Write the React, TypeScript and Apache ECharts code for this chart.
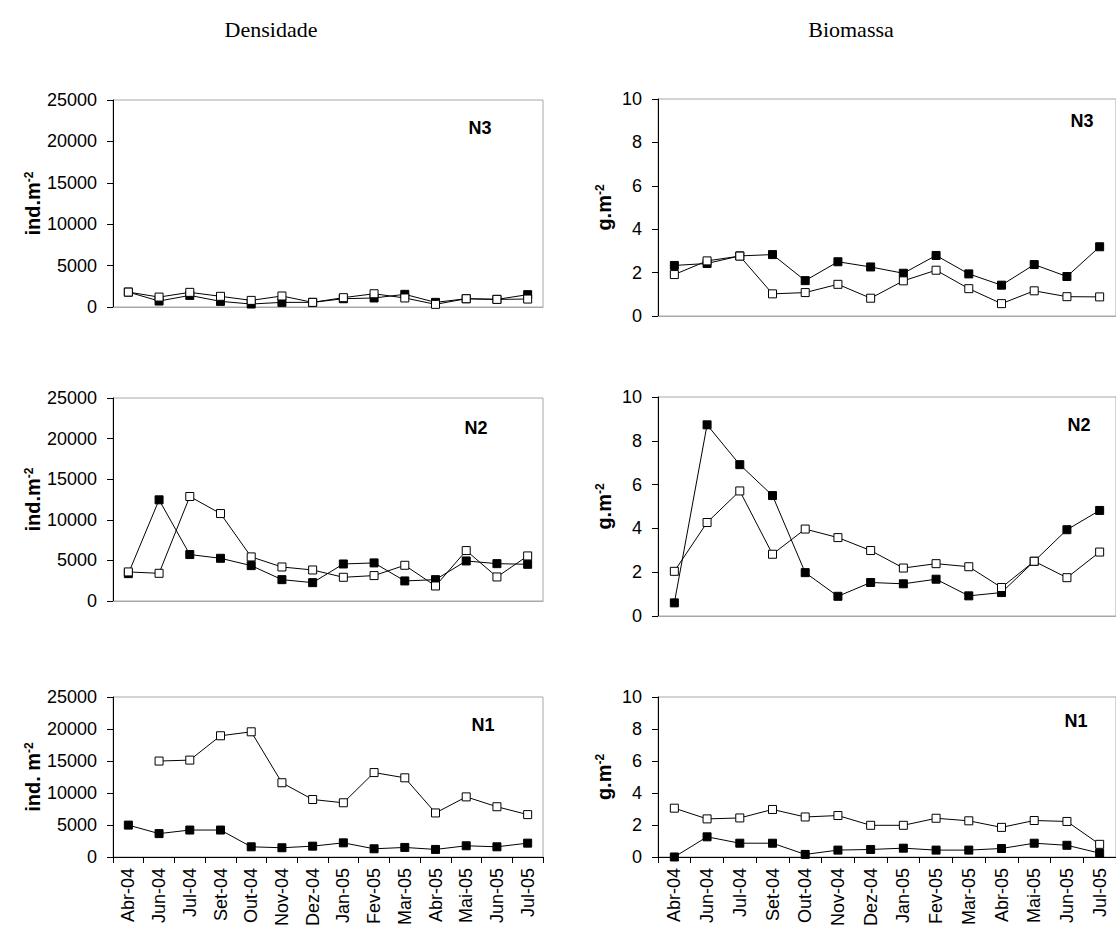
import React, { useEffect, useRef } from "react";
import * as echarts from "echarts";

const categories = ["Abr-04", "Jun-04", "Jul-04", "Set-04", "Out-04", "Nov-04", "Dez-04", "Jan-05", "Fev-05", "Mar-05", "Abr-05", "Mai-05", "Jun-05", "Jul-05"];

// Densidade (ind.m-2)
const densN3Filled = [1800, 720, 1400, 680, 360, 560, 560, 1000, 1090, 1530, 560, 1000, 920, 1490];
const densN3Open = [1800, 1200, 1770, 1290, 800, 1330, 560, 1130, 1600, 1090, 320, 1000, 920, 960];
const densN2Filled = [3370, 12460, 5720, 5260, 4360, 2630, 2260, 4560, 4690, 2470, 2630, 4930, 4600, 4520];
const densN2Open = [3580, 3410, 12870, 10770, 5430, 4190, 3820, 2920, 3130, 4400, 1850, 6210, 2960, 5550];
const densN1Filled = [4980, 3650, 4210, 4210, 1590, 1440, 1690, 2210, 1280, 1490, 1180, 1750, 1590, 2160];
const densN1Open = [null, 14990, 15140, 18940, 19560, 11600, 8980, 8470, 13190, 12370, 6880, 9390, 7850, 6620];

// Biomassa (g.m-2)
const bioN3Filled = [2.33, 2.42, 2.77, 2.83, 1.63, 2.5, 2.26, 1.97, 2.79, 1.94, 1.42, 2.37, 1.82, 3.19];
const bioN3Open = [1.91, 2.54, 2.76, 1.02, 1.08, 1.46, 0.82, 1.62, 2.11, 1.26, 0.57, 1.16, 0.89, 0.88];
const bioN2Filled = [0.6, 8.73, 6.91, 5.5, 1.98, 0.9, 1.53, 1.47, 1.68, 0.92, 1.07, 2.5, 3.94, 4.82];
const bioN2Open = [2.04, 4.27, 5.71, 2.82, 3.97, 3.58, 2.99, 2.19, 2.39, 2.25, 1.3, 2.5, 1.75, 2.92];
const bioN1Filled = [0.0, 1.26, 0.86, 0.86, 0.16, 0.43, 0.47, 0.55, 0.43, 0.43, 0.53, 0.86, 0.73, 0.24];
const bioN1Open = [3.05, 2.38, 2.44, 2.97, 2.5, 2.59, 1.98, 1.98, 2.42, 2.26, 1.85, 2.28, 2.22, 0.79];

const densTicks = { min: 0, max: 25000, interval: 5000 };
const bioTicks = { min: 0, max: 10, interval: 2 };

const panelNames = ["N3", "N3", "N2", "N2", "N1", "N1"];
const columnTitles = ["Densidade", "Biomassa"];

const SANS = "'Liberation Sans', Arial, sans-serif";
const SERIF = "'Liberation Serif', 'Times New Roman', serif";

const layout = [
  { left: 113, top: 100, width: 430, height: 207 },
  { left: 658, top: 99, width: 461, height: 217 },
  { left: 113, top: 398, width: 430, height: 203 },
  { left: 658, top: 397, width: 461, height: 219 },
  { left: 113, top: 697, width: 430, height: 163 },
  { left: 658, top: 697, width: 461, height: 164 },
];

const panelData = [
  [densN3Filled, densN3Open],
  [bioN3Filled, bioN3Open],
  [densN2Filled, densN2Open],
  [bioN2Filled, bioN2Open],
  [densN1Filled, densN1Open],
  [bioN1Filled, bioN1Open],
];

export default function App() {
  const ref = useRef<HTMLDivElement>(null);
  useEffect(() => {
    if (!ref.current) return;
    const chart = echarts.init(ref.current, null, { renderer: "svg" });

    const grids = layout.map((g) => ({
      ...g,
      show: true,
      borderColor: "#a8a8a8",
      borderWidth: 1,
      backgroundColor: "transparent",
      containLabel: false,
    }));

    const xAxes = layout.map((_, i) => {
      const bottom = i >= 4;
      return {
        type: "category",
        gridIndex: i,
        data: categories,
        boundaryGap: true,
        axisLine: { show: true, lineStyle: { color: bottom ? "#000" : "#a8a8a8", width: 1 } },
        axisTick: { show: bottom, alignWithLabel: false, length: 6, lineStyle: { color: "#000" }, interval: 0 },
        axisLabel: {
          show: bottom,
          rotate: 90,
          interval: 0,
          fontSize: 18,
          fontFamily: SANS,
          color: "#000",
          margin: 11,
        },
        splitLine: { show: false },
      };
    });

    const yAxes = layout.map((_, i) => {
      const isDens = i % 2 === 0;
      const t = isDens ? densTicks : bioTicks;
      const nameMain = isDens ? (i === 4 ? "ind. m" : "ind.m") : "g.m";
      return {
        type: "value",
        gridIndex: i,
        min: t.min,
        max: t.max,
        interval: t.interval,
        name: `{a|${nameMain}}{b|-2}`,
        nameLocation: "middle",
        nameGap: isDens ? 59 : 44,
        nameTextStyle: {
          rich: {
            a: { fontSize: 20, fontWeight: "bold", fontFamily: SANS, color: "#000" },
            b: { fontSize: 12, fontWeight: "bold", fontFamily: SANS, color: "#000", verticalAlign: "top", padding: [0, 0, 8, 0] },
          },
        },
        axisLine: { show: true, lineStyle: { color: "#000", width: 1 } },
        axisTick: { show: true, length: 6, lineStyle: { color: "#000" } },
        axisLabel: {
          fontSize: 18,
          fontFamily: SANS,
          color: "#000",
          margin: 16,
          formatter: (v: number) => String(v),
        },
        splitLine: { show: false },
      };
    });

    const series: any[] = [];
    panelData.forEach((pair, i) => {
      pair.forEach((values, k) => {
        series.push({
          type: "line",
          xAxisIndex: i,
          yAxisIndex: i,
          data: values,
          connectNulls: false,
          symbol: "rect",
          symbolSize: 8,
          showAllSymbol: true,
          lineStyle: { color: "#000", width: 1 },
          itemStyle: { color: k === 0 ? "#000" : "#fff", borderColor: "#000", borderWidth: 1 },
          z: k === 0 ? 2 : 3,
        });
      });
    });

    const labelPos = [
      { x: 480, y: 128 },
      { x: 1082, y: 121 },
      { x: 476, y: 428 },
      { x: 1079, y: 425 },
      { x: 483, y: 725 },
      { x: 1076, y: 721 },
    ];

    const graphic: any[] = panelNames.map((n, i) => ({
      type: "text",
      x: labelPos[i].x,
      y: labelPos[i].y,
      style: {
        text: n,
        font: `bold 18px ${SANS}`,
        fill: "#000",
        textAlign: "center",
        textVerticalAlign: "middle",
      },
    }));
    const titlePos = [
      { x: 271, y: 29 },
      { x: 851, y: 29 },
    ];
    columnTitles.forEach((t, i) => {
      graphic.push({
        type: "text",
        x: titlePos[i].x,
        y: titlePos[i].y,
        style: {
          text: t,
          font: `22px ${SERIF}`,
          fill: "#000",
          textAlign: "center",
          textVerticalAlign: "middle",
        },
      });
    });

    chart.setOption({
      animation: false,
      backgroundColor: "#fff",
      grid: grids,
      xAxis: xAxes,
      yAxis: yAxes,
      series,
      graphic,
    });
    return () => chart.dispose();
  }, []);

  return (
    <div
      ref={ref}
      style={{ position: "absolute", left: 0, top: 0, width: 1116, height: 929 }}
    />
  );
}
